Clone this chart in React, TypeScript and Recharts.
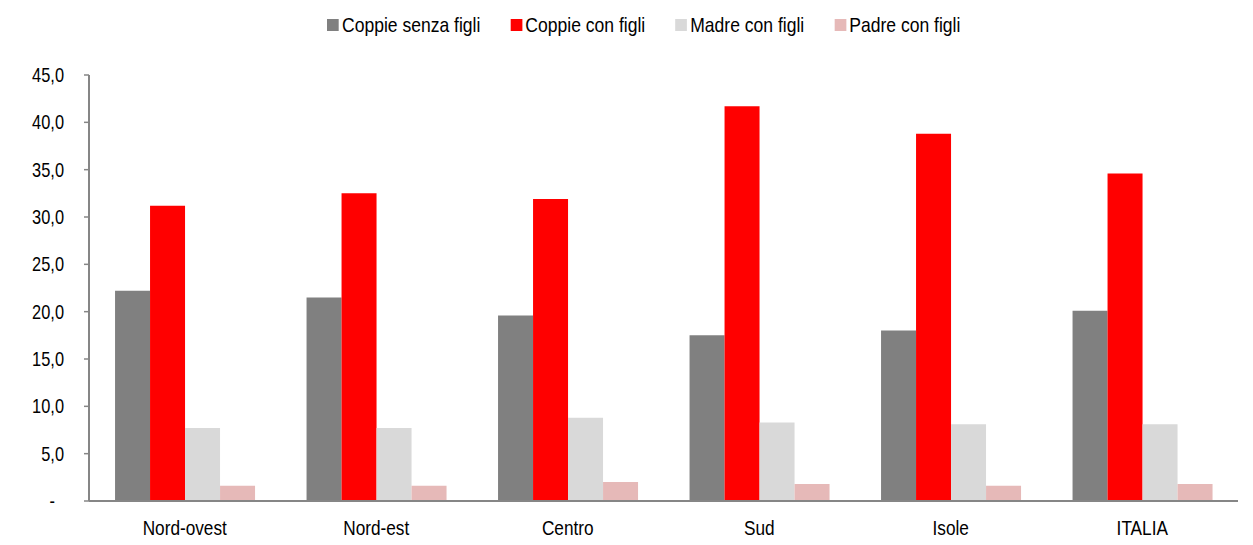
import React from 'react';
import { BarChart, Bar, XAxis, YAxis, Legend } from 'recharts';

const categories = ['Nord-ovest', 'Nord-est', 'Centro', 'Sud', 'Isole', 'ITALIA'];
const coppieSenzaFigli = [22.2, 21.5, 19.6, 17.5, 18.0, 20.1];
const coppieConFigli = [31.2, 32.5, 31.9, 41.7, 38.8, 34.6];
const madreConFigli = [7.7, 7.7, 8.8, 8.3, 8.1, 8.1];
const padreConFigli = [1.6, 1.6, 2.0, 1.8, 1.6, 1.8];
const yTicks = [0, 5, 10, 15, 20, 25, 30, 35, 40, 45];

const seriesNames = ['Coppie senza figli', 'Coppie con figli', 'Madre con figli', 'Padre con figli'];
const seriesColors = ['#808080', '#FF0000', '#D9D9D9', '#E6B9B8'];

const data = categories.map((c, i) => ({
  name: c,
  s0: coppieSenzaFigli[i],
  s1: coppieConFigli[i],
  s2: madreConFigli[i],
  s3: padreConFigli[i],
}));

const FONT = '"Liberation Sans", Arial, sans-serif';
const NARROW = 0.82;
const LEGEND_NARROW = 0.835;

const YTick = (props: any) => {
  const { x, y, payload } = props;
  const v = payload.value as number;
  const label = v === 0 ? '-' : v.toFixed(1).replace('.', ',');
  return (
    <g transform={`translate(${v === 0 ? x - 9 : x},${y}) scale(${NARROW},1)`}>
      <text x={0} y={0} dy={7} textAnchor="end" fontFamily={FONT} fontSize={20} fill="#000">
        {label}
      </text>
    </g>
  );
};

const XTick = (props: any) => {
  const { x, y, payload } = props;
  return (
    <g transform={`translate(${x},${y}) scale(${NARROW},1)`}>
      <text x={0} y={0} dy={15} textAnchor="middle" fontFamily={FONT} fontSize={21} fill="#000">
        {payload.value}
      </text>
    </g>
  );
};

const renderLegend = (props: any) => {
  const payload = [...(props.payload || [])].sort(
    (a: any, b: any) => seriesNames.indexOf(a.value) - seriesNames.indexOf(b.value)
  );
  return (
    <div
      style={{
        display: 'flex',
        alignItems: 'center',
        fontFamily: FONT,
        fontSize: 21,
        lineHeight: '24px',
        color: '#000',
        whiteSpace: 'nowrap',
        transform: `scaleX(${LEGEND_NARROW})`,
        transformOrigin: 'left center',
      }}
    >
      {payload.map((entry: any, i: number) => (
        <div key={i} style={{ display: 'flex', alignItems: 'center', marginRight: 30 / LEGEND_NARROW }}>
          <span
            style={{
              display: 'inline-block',
              width: 12 / LEGEND_NARROW,
              height: 12,
              background: entry.color,
              marginRight: 3 / LEGEND_NARROW,
            }}
          />
          <span>{entry.value}</span>
        </div>
      ))}
    </div>
  );
};

export default function App() {
  return (
    <div style={{ position: 'absolute', left: 0, top: 0, width: 1253, height: 545, background: '#fff' }}>
      <BarChart
        width={1253}
        height={545}
        data={data}
        margin={{ top: 75, right: 15, bottom: 0, left: 0 }}
        barCategoryGap="13.6%"
        barGap={0}
      >
        <XAxis
          dataKey="name"
          height={44}
          tickLine={false}
          tickSize={0}
          tickMargin={19}
          axisLine={{ stroke: '#868686', strokeWidth: 2 }}
          tick={<XTick />}
          interval={0}
        />
        <YAxis
          width={89}
          domain={[0, 45]}
          ticks={yTicks}
          interval={0}
          tickSize={5}
          tickMargin={20}
          axisLine={{ stroke: '#868686', strokeWidth: 2 }}
          tickLine={{ stroke: '#868686', strokeWidth: 1.5 }}
          tick={<YTick />}
        />
        <Legend
          layout="horizontal"
          verticalAlign="middle"
          align="center"
          content={renderLegend}
          wrapperStyle={{ top: 13, left: 327, width: 'auto', height: 'auto', transform: 'none' }}
        />
        {['s0', 's1', 's2', 's3'].map((k, i) => (
          <Bar key={k} dataKey={k} name={seriesNames[i]} fill={seriesColors[i]} isAnimationActive={false} />
        ))}
      </BarChart>
    </div>
  );
}
